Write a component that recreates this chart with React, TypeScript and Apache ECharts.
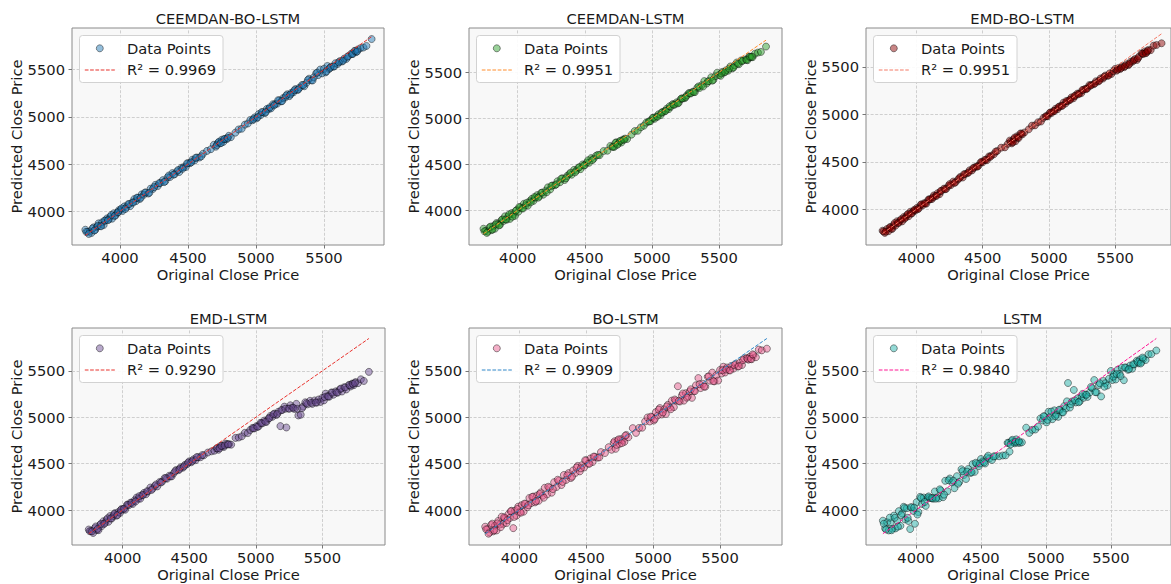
import React, { useEffect, useRef } from "react";
import * as echarts from "echarts";

const modelNames = ["CEEMDAN-BO-LSTM", "CEEMDAN-LSTM", "EMD-BO-LSTM", "EMD-LSTM", "BO-LSTM", "LSTM"];
const r2Values = ["0.9969", "0.9951", "0.9951", "0.9290", "0.9909", "0.9840"];
const tickValues = [4000, 4500, 5000, 5500];
const xRanges = [[3647, 5941], [3637, 5969], [3620, 5921], [3619, 5971], [3624, 5963], [3615, 5963]];
const yRanges = [[3643, 5942], [3623, 5982], [3624, 5911], [3623, 5963], [3623, 5963], [3623, 5963]];

const originalPrice = [
  3745, 3762, 3778, 3790, 3805, 3818, 3830, 3842, 3855, 3868,
  3880, 3893, 3905, 3918, 3930, 3942, 3955, 3968, 3980, 3992,
  4005, 4018, 4032, 4046, 4060, 4075, 4090, 4105, 4118, 4132,
  4145, 4160, 4175, 4190, 4208, 4225, 4242, 4260, 4278, 4296,
  4315, 4333, 4350, 4368, 4385, 4402, 4420, 4436, 4452, 4468,
  4484, 4500, 4515, 4532, 4548, 4565, 4585, 4610, 4640, 4668,
  4690, 4705, 4720, 4735, 4748, 4760, 4772, 4785, 4800, 4815,
  4848, 4872, 4895, 4918, 4940, 4958, 4975, 4990, 5005, 5020,
  5035, 5050, 5065, 5080, 5095, 5110, 5125, 5140, 5155, 5170,
  5185, 5200, 5215, 5230, 5245, 5260, 5275, 5290, 5305, 5320,
  5338, 5355, 5372, 5390, 5408, 5425, 5442, 5458, 5472, 5486,
  5500, 5512, 5525, 5538, 5552, 5568, 5584, 5600, 5616, 5632,
  5648, 5664, 5680, 5700, 5712, 5724, 5736, 5750, 5768, 5790,
  5812, 5850,
  3752, 3770, 3798, 3812, 3836, 3861, 3886, 3911, 3936, 3961,
  3986, 4011, 4039, 4067, 4097, 4125, 4153, 4183, 4216, 4251,
  4287, 4324, 4359, 4394, 4428, 4460, 4492, 4524, 4556, 4598,
  4712, 4728, 4742, 4766, 4792,
  4982, 5012, 5042, 5072, 5102, 5132, 5162, 5192, 5222, 5252,
  5282, 5312, 5347, 5381, 5416, 5450, 5518,
  5545, 5575, 5608, 5640, 5672, 5706, 5730, 5744,
];

const predCeemdanBoLstm = [
  3805, 3782, 3788, 3770, 3830, 3803, 3835, 3872, 3845, 3883,
  3855, 3903, 3925, 3913, 3945, 3922, 3980, 3958, 3985, 4012,
  4015, 4003, 4052, 4041, 4075, 4055, 4095, 4130, 4108, 4142,
  4130, 4180, 4175, 4200, 4188, 4240, 4237, 4280, 4268, 4301,
  4330, 4318, 4360, 4363, 4405, 4392, 4425, 4416, 4462, 4468,
  4469, 4510, 4510, 4547, 4538, 4570, 4570, 4610, 4640, 4658,
  4705, 4685, 4725, 4720, 4758, 4735, 4767, 4765, 4800, 4785,
  4833, 4867, 4875, 4918, 4930, 4968, 4965, 4995, 4985, 5030,
  5020, 5050, 5040, 5085, 5085, 5090, 5135, 5135, 5140, 5175,
  5165, 5200, 5205, 5240, 5220, 5255, 5260, 5295, 5285, 5310,
  5338, 5325, 5362, 5405, 5388, 5420, 5462, 5443, 5502, 5461,
  5510, 5472, 5540, 5508, 5532, 5533, 5569, 5560, 5591, 5587,
  5618, 5614, 5645, 5670, 5667, 5699, 5686, 5715, 5728, 5735,
  5752, 5825,
  3782, 3760, 3818, 3797, 3846, 3841, 3901, 3906, 3961, 3951,
  3991, 4031, 4024, 4077, 4092, 4145, 4143, 4198, 4196, 4256,
  4297, 4309, 4379, 4389, 4438, 4450, 4507, 4519, 4566, 4583,
  4702, 4738, 4722, 4766, 4777,
  4977, 4997, 5052, 5052, 5102, 5122, 5177, 5167, 5227, 5237,
  5282, 5292, 5337, 5391, 5386, 5470, 5483,
  5520, 5535, 5578, 5595, 5637, 5666, 5700, 5694,
];

const predCeemdanLstm = [
  3800, 3777, 3768, 3815, 3785, 3828, 3800, 3862, 3855, 3843,
  3895, 3883, 3935, 3898, 3935, 3907, 3970, 3958, 3940, 4002,
  3985, 4033, 4022, 4071, 4055, 4050, 4100, 4125, 4103, 4137,
  4165, 4150, 4190, 4170, 4213, 4250, 4227, 4270, 4273, 4316,
  4305, 4348, 4330, 4373, 4395, 4387, 4440, 4431, 4462, 4448,
  4499, 4490, 4520, 4517, 4568, 4560, 4595, 4600, 4645, 4648,
  4700, 4690, 4690, 4740, 4723, 4750, 4737, 4770, 4780, 4775,
  4823, 4862, 4865, 4903, 4920, 4953, 4965, 4970, 5005, 4995,
  5020, 5045, 5035, 5070, 5075, 5105, 5100, 5125, 5155, 5150,
  5175, 5170, 5210, 5215, 5220, 5250, 5275, 5270, 5290, 5285,
  5333, 5330, 5362, 5405, 5378, 5405, 5447, 5418, 5457, 5496,
  5470, 5462, 5505, 5498, 5522, 5518, 5564, 5545, 5576, 5607,
  5588, 5629, 5630, 5640, 5632, 5669, 5666, 5665, 5703, 5715,
  5722, 5780,
  3772, 3755, 3823, 3792, 3846, 3836, 3901, 3901, 3956, 3931,
  3996, 4036, 4019, 4082, 4087, 4145, 4138, 4193, 4196, 4266,
  4282, 4344, 4349, 4409, 4413, 4470, 4487, 4544, 4546, 4603,
  4692, 4733, 4712, 4756, 4767,
  4967, 5007, 5017, 5062, 5082, 5132, 5147, 5162, 5217, 5232,
  5272, 5287, 5347, 5346, 5401, 5410, 5488,
  5505, 5540, 5553, 5595, 5622, 5636, 5670, 5669,
];

const predEmdBoLstm = [
  3775, 3752, 3793, 3770, 3815, 3793, 3835, 3827, 3875, 3858,
  3885, 3873, 3920, 3913, 3940, 3927, 3975, 3958, 3985, 3987,
  4015, 4008, 4047, 4041, 4065, 4060, 4100, 4105, 4108, 4147,
  4140, 4170, 4160, 4195, 4218, 4215, 4247, 4255, 4293, 4286,
  4315, 4343, 4335, 4373, 4380, 4412, 4410, 4441, 4452, 4458,
  4494, 4495, 4520, 4517, 4558, 4565, 4580, 4615, 4650, 4653,
  4690, 4725, 4695, 4740, 4718, 4770, 4752, 4800, 4790, 4810,
  4843, 4882, 4885, 4918, 4925, 4963, 4980, 4980, 5015, 5015,
  5035, 5060, 5055, 5085, 5090, 5125, 5115, 5140, 5150, 5180,
  5170, 5200, 5220, 5220, 5225, 5260, 5270, 5275, 5310, 5310,
  5318, 5350, 5347, 5380, 5378, 5410, 5407, 5433, 5427, 5456,
  5480, 5462, 5490, 5478, 5507, 5498, 5529, 5520, 5556, 5557,
  5583, 5574, 5610, 5645, 5637, 5664, 5651, 5680, 5678, 5725,
  5732, 5750,
  3767, 3765, 3808, 3797, 3856, 3856, 3896, 3901, 3951, 3956,
  3996, 4001, 4054, 4062, 4107, 4125, 4143, 4193, 4211, 4266,
  4277, 4329, 4369, 4389, 4433, 4450, 4502, 4524, 4551, 4608,
  4712, 4708, 4757, 4756, 4797,
  4982, 5022, 5037, 5077, 5092, 5142, 5157, 5192, 5212, 5257,
  5267, 5302, 5327, 5356, 5396, 5410, 5473,
  5490, 5510, 5533, 5570, 5592, 5641, 5645, 5669,
];

const predEmdLstm = [
  3790, 3772, 3753, 3805, 3785, 3783, 3840, 3827, 3880, 3863,
  3895, 3873, 3935, 3908, 3935, 3967, 3940, 3978, 3970, 4012,
  4010, 4003, 4057, 4051, 4080, 4065, 4105, 4135, 4123, 4122,
  4160, 4185, 4170, 4200, 4243, 4230, 4262, 4255, 4303, 4306,
  4345, 4338, 4370, 4363, 4400, 4432, 4430, 4461, 4457, 4488,
  4494, 4525, 4515, 4547, 4538, 4570, 4570, 4590, 4620, 4633,
  4640, 4665, 4650, 4690, 4688, 4680, 4717, 4710, 4710, 4705,
  4778, 4782, 4795, 4833, 4830, 4863, 4885, 4880, 4905, 4900,
  4940, 4935, 4965, 4950, 4985, 5015, 5005, 5040, 5025, 5060,
  4905, 5080, 5115, 4890, 5095, 5130, 5105, 5090, 5145, 5020,
  5028, 5115, 5162, 5140, 5178, 5145, 5182, 5158, 5192, 5166,
  5210, 5182, 5255, 5228, 5222, 5268, 5244, 5280, 5266, 5302,
  5278, 5324, 5300, 5350, 5332, 5364, 5346, 5380, 5368, 5410,
  5392, 5490,
  3772, 3770, 3823, 3797, 3851, 3851, 3911, 3911, 3956, 3946,
  4001, 4016, 4059, 4077, 4092, 4150, 4163, 4203, 4216, 4276,
  4297, 4344, 4364, 4419, 4443, 4470, 4512, 4529, 4571, 4593,
  4667, 4668, 4692, 4696, 4707,
  4882, 4897, 4937, 4952, 4992, 5032, 5037, 5077, 5092, 5092,
  5102, 5092, 5097, 5151, 5156, 5160, 5218,
  5225, 5265, 5268, 5310, 5322, 5346, 5360, 5369,
];

const predBoLstm = [
  3820, 3792, 3758, 3840, 3770, 3833, 3780, 3882, 3845, 3928,
  3850, 3913, 3860, 3953, 3915, 3992, 3805, 3993, 3940, 4037,
  3980, 4053, 3982, 4066, 4030, 4130, 4075, 4145, 4083, 4157,
  4100, 4190, 4155, 4240, 4168, 4240, 4187, 4300, 4248, 4316,
  4270, 4378, 4325, 4398, 4345, 4427, 4400, 4476, 4417, 4483,
  4459, 4535, 4500, 4557, 4518, 4575, 4565, 4625, 4615, 4678,
  4650, 4725, 4660, 4750, 4713, 4765, 4752, 4735, 4810, 4785,
  4883, 4832, 4885, 4888, 4955, 4998, 4955, 5000, 4965, 5055,
  5020, 5100, 5030, 5085, 5035, 5135, 5105, 5180, 5110, 5180,
  5335, 5170, 5235, 5180, 5260, 5225, 5280, 5210, 5285, 5345,
  5423, 5315, 5362, 5330, 5438, 5395, 5482, 5388, 5452, 5396,
  5510, 5472, 5545, 5483, 5537, 5508, 5554, 5525, 5576, 5547,
  5588, 5564, 5635, 5640, 5622, 5654, 5626, 5670, 5648, 5730,
  5722, 5740,
  3792, 3745, 3853, 3782, 3856, 3816, 3921, 3891, 3986, 3926,
  4011, 3971, 4069, 4052, 4142, 4095, 4173, 4133, 4251, 4226,
  4327, 4304, 4374, 4359, 4458, 4450, 4537, 4499, 4576, 4568,
  4742, 4703, 4762, 4721, 4802,
  5007, 4982, 5082, 5052, 5117, 5087, 5192, 5177, 5257, 5212,
  5302, 5282, 5357, 5331, 5441, 5390, 5508,
  5515, 5505, 5563, 5550, 5617, 5631, 5630, 5679,
];

const predLstm = [
  3885, 3802, 3868, 3780, 3865, 3798, 3940, 3802, 3885, 3988,
  3830, 3963, 4035, 3898, 4020, 3882, 3795, 4028, 3990, 3852,
  4085, 3978, 4142, 4066, 4135, 4045, 4135, 4130, 4128, 4122,
  4200, 4135, 4125, 4210, 4138, 4315, 4202, 4340, 4298, 4236,
  4365, 4303, 4440, 4378, 4335, 4442, 4400, 4496, 4412, 4498,
  4474, 4550, 4525, 4502, 4568, 4555, 4540, 4580, 4580, 4588,
  4590, 4725, 4630, 4745, 4728, 4720, 4762, 4725, 4725, 4730,
  4888, 4832, 4865, 4868, 4900, 4988, 4965, 5010, 4945, 5060,
  5005, 4980, 5075, 5030, 5005, 5080, 5055, 5120, 5095, 5370,
  5105, 5170, 5295, 5160, 5205, 5170, 5225, 5210, 5245, 5220,
  5268, 5315, 5402, 5270, 5348, 5225, 5392, 5368, 5342, 5416,
  5500, 5402, 5465, 5408, 5512, 5468, 5534, 5400, 5536, 5512,
  5558, 5524, 5570, 5610, 5582, 5624, 5596, 5630, 5618, 5680,
  5682, 5720,
  3852, 3790, 3918, 3782, 3916, 3821, 3946, 4021, 3916, 4031,
  4026, 3951, 4129, 4087, 4147, 4130, 4123, 4223, 4166, 4321,
  4317, 4284, 4419, 4414, 4408, 4510, 4502, 4514, 4586, 4578,
  4722, 4708, 4757, 4736, 4742,
  5012, 4972, 5062, 5012, 5082, 5052, 5172, 5142, 5182, 5162,
  5252, 5242, 5327, 5271, 5366, 5330, 5438,
  5465, 5445, 5538, 5520, 5572, 5596, 5580, 5644,
];

const predictions = [predCeemdanBoLstm, predCeemdanLstm, predEmdBoLstm, predEmdLstm, predBoLstm, predLstm];

// styling / layout (not data)
const pointColors = ["#1f77b4", "#2ca02c", "#8b0000", "#6a4c93", "#e75a8c", "#20b2aa"];
const lineColors = ["#e8322d", "#ff8c2a", "#f47a66", "#e8322d", "#2f86c8", "#ff1493"];
const gridBoxes = [
  { left: 72, top: 28, width: 312, height: 217 },
  { left: 469, top: 28, width: 313, height: 217 },
  { left: 866, top: 28, width: 313, height: 217 },
  { left: 72, top: 328, width: 313, height: 217 },
  { left: 469, top: 328, width: 313, height: 217 },
  { left: 866, top: 328, width: 313, height: 217 },
];

const FONT = '"DejaVu Sans", "Noto Sans", sans-serif';
const FS = 14.7;
const TEXT = "#1a1a1a";
const GRID_LINE = { color: "#c4c4c4", width: 0.8, type: [3, 1.6] };
const OPACITY = 0.48;

export default function App() {
  const ref = useRef<HTMLDivElement>(null);

  useEffect(() => {
    if (!ref.current) return;
    const chart = echarts.init(ref.current, undefined, { renderer: "svg" });

    const grids: any[] = [];
    const xAxes: any[] = [];
    const yAxes: any[] = [];
    const series: any[] = [];
    const graphics: any[] = [];
    const fmt = (v: number) => String(v);

    gridBoxes.forEach((g, i) => {
      grids.push({
        left: g.left,
        top: g.top,
        width: g.width,
        height: g.height,
        show: true,
        backgroundColor: "#f8f8f8",
        borderColor: "#8a8a8a",
        borderWidth: 1,
        containLabel: false,
      });
      const common = {
        type: "value",
        gridIndex: i,
        axisLine: { show: false },
        axisTick: {
          show: true,
          inside: false,
          length: 3.5,
          customValues: tickValues,
          lineStyle: { color: "#777", width: 1 },
        },
        splitLine: { show: false },
        nameLocation: "middle",
        nameTextStyle: { fontSize: FS, color: TEXT, fontFamily: FONT },
      };
      const label = {
        customValues: tickValues,
        fontSize: FS,
        color: TEXT,
        fontFamily: FONT,
        formatter: fmt,
      };
      xAxes.push({
        ...common,
        min: xRanges[i][0],
        max: xRanges[i][1],
        name: "Original Close Price",
        nameGap: 22,
        axisLabel: { ...label, margin: 5 },
      });
      yAxes.push({
        ...common,
        min: yRanges[i][0],
        max: yRanges[i][1],
        name: "Predicted Close Price",
        nameGap: 44,
        axisLabel: { ...label, margin: 7 },
      });

      // grid lines at the tick values (behind points)
      series.push({
        type: "scatter",
        xAxisIndex: i,
        yAxisIndex: i,
        data: [[tickValues[0], tickValues[0]]],
        symbolSize: 0,
        silent: true,
        z: 1,
        itemStyle: { opacity: 0 },
        markLine: {
          silent: true,
          z: 1,
          symbol: ["none", "none"],
          label: { show: false },
          animation: false,
          lineStyle: GRID_LINE,
          emphasis: { disabled: true },
          data: [
            ...tickValues.map((v) => ({ xAxis: v })),
            ...tickValues.map((v) => ({ yAxis: v })),
          ],
        },
      });

      const preds = predictions[i];
      series.push({
        type: "scatter",
        xAxisIndex: i,
        yAxisIndex: i,
        data: originalPrice.map((x, j) => [x, preds[j]]),
        symbol: "circle",
        symbolSize: 7,
        silent: true,
        z: 2,
        itemStyle: {
          color: pointColors[i],
          opacity: OPACITY,
          borderColor: "#000",
          borderWidth: 0.9,
        },
      });
      const lo = Math.min(...originalPrice);
      const hi = Math.max(...originalPrice);
      series.push({
        type: "line",
        xAxisIndex: i,
        yAxisIndex: i,
        data: [[lo, lo], [hi, hi]],
        symbol: "none",
        silent: true,
        z: 3,
        lineStyle: { color: lineColors[i], width: 1, type: [3.7, 1.6] },
      });

      // title
      graphics.push({
        type: "text",
        x: g.left + g.width / 2,
        y: g.top - 9.5,
        zlevel: 1,
        z: 100,
        style: {
          text: modelNames[i],
          fontSize: FS,
          fontWeight: "normal",
          fontFamily: FONT,
          fill: TEXT,
          align: "center",
          verticalAlign: "middle",
        },
      });

      // legend
      const bx = g.left + 7.5;
      const by = g.top + 7.5;
      graphics.push({
        type: "rect",
        zlevel: 1,
        z: 100,
        shape: { x: bx, y: by, width: 143.5, height: 47, r: 3 },
        style: { fill: "rgba(255,255,255,0.9)", stroke: "#d2d2d2", lineWidth: 1 },
      });
      graphics.push({
        type: "circle",
        zlevel: 1,
        z: 110,
        shape: { cx: bx + 20.3, cy: by + 12.8, r: 3.5 },
        style: { fill: pointColors[i], stroke: "#000", lineWidth: 0.9, opacity: OPACITY },
      });
      graphics.push({
        type: "text",
        zlevel: 1,
        z: 110,
        x: bx + 47.5,
        y: by + 12.8,
        style: {
          text: "Data Points",
          fontSize: FS,
          fontWeight: "normal",
          fontFamily: FONT,
          fill: TEXT,
          align: "left",
          verticalAlign: "middle",
        },
      });
      // dashed legend sample
      graphics.push({
        type: "polyline",
        zlevel: 1,
        z: 120,
        shape: { points: [[bx + 5.3, by + 34.5], [bx + 35.3, by + 34.5]] },
        style: { stroke: lineColors[i], fill: null, lineWidth: 1, lineDash: [3.7, 1.6] },
      });
      graphics.push({
        type: "text",
        zlevel: 1,
        z: 110,
        x: bx + 47.5,
        y: by + 34,
        style: {
          text: "R\u00b2 = " + r2Values[i],
          fontSize: FS,
          fontWeight: "normal",
          fontFamily: FONT,
          fill: TEXT,
          align: "left",
          verticalAlign: "middle",
        },
      });
    });

    chart.setOption({
      animation: false,
      backgroundColor: "#ffffff",
      textStyle: { fontFamily: FONT },
      grid: grids,
      xAxis: xAxes,
      yAxis: yAxes,
      series,
      graphic: { elements: graphics },
    });

    return () => {
      chart.dispose();
    };
  }, []);

  return (
    <div
      ref={ref}
      style={{ position: "absolute", left: 0, top: 0, width: 1171, height: 584, background: "#fff" }}
    />
  );
}
